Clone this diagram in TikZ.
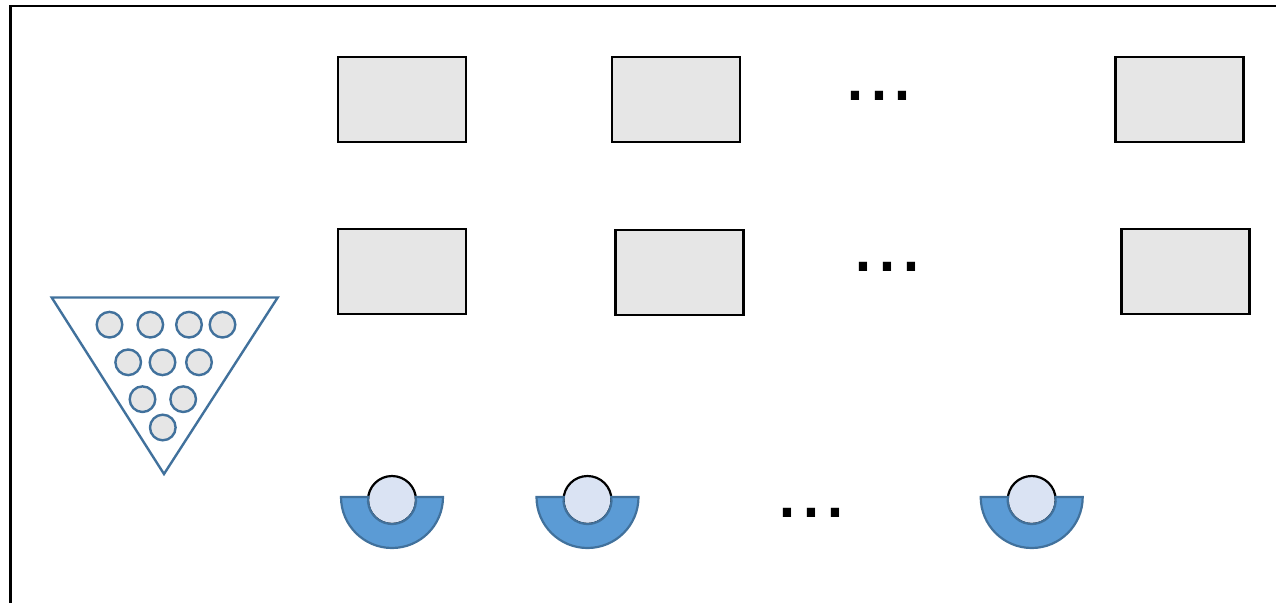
\documentclass[tikz,border=0pt]{standalone}
\usepackage{fontspec}
\usetikzlibrary{calc}
\newfontfamily\dotfont{Liberation Sans}
\definecolor{boxgray}{HTML}{E6E6E6}
\definecolor{edgeblue}{HTML}{41719C}
\definecolor{bowlblue}{HTML}{5B9BD5}
\definecolor{ballblue}{HTML}{DAE3F3}
\begin{document}
\begin{tikzpicture}[x=1pt,y=1pt,
  box/.style={draw=black,line width=2.4pt,fill=boxgray,minimum width=128pt,minimum height=85pt,inner sep=0pt,outer sep=0pt},
  ball/.style={draw=edgeblue,line width=2.4pt,fill=boxgray,circle,minimum size=25.6pt,inner sep=0pt},
  dotsnode/.style={font=\dotfont\fontsize{86pt}{90pt}\selectfont,inner sep=0pt,anchor=base},
  bowl/.style={draw=edgeblue,line width=2.2pt,fill=bowlblue},
  dome/.style={draw=black,line width=2.2pt,fill=ballblue}
]
\useasboundingbox (0,0) rectangle (1276,-602);
\begin{scope}
\clip (0,0) rectangle (1276,-602);
\draw[line width=2.2pt] (10.5,-6) rectangle (1320,-660);
\end{scope}

% boxes
\node[box] (b11) at (402,-99.5) {};
\node[box] (b12) at (676,-99.5) {};
\node[box] (b13) at (1179.5,-99.5) {};
\node[box] (b21) at (402,-271.5) {};
\node[box] (b22) at (679.5,-272.5) {};
\node[box] (b23) at (1185.5,-271.5) {};

% dots
\node[dotsnode] (d1) at (879,-100) {...};
\node[dotsnode] (d2) at (887.5,-271) {...};
\node[dotsnode] (d3) at (811.5,-517.5) {...};

% triangle with balls
\draw[draw=edgeblue,line width=2.4pt,line join=miter] (51.7,-297.5) -- (277.7,-297.5) -- (164,-474) -- cycle;
\node[ball] (c1) at (109.5,-324.7) {};
\node[ball] (c2) at (150.3,-324.7) {};
\node[ball] (c3) at (189,-324.7) {};
\node[ball] (c4) at (222.5,-324.7) {};
\node[ball] (c5) at (128.2,-362.3) {};
\node[ball] (c6) at (162.5,-362.3) {};
\node[ball] (c7) at (199,-362.3) {};
\node[ball] (c8) at (142.5,-399.2) {};
\node[ball] (c9) at (183.2,-399.2) {};
\node[ball] (c10) at (162.8,-427.5) {};

% bowls
\foreach \bx/\nm in {392/w1,587.5/w2,1031.7/w3}{
  \draw[dome] (\bx,-500) circle[radius=24];
  \draw[bowl] (\bx-51,-497) -- ($(\bx,-500)+(172.8:24)$) arc[start angle=172.8,end angle=367.2,radius=24]
     -- (\bx+51,-497) arc[start angle=0,end angle=-180,radius=51] -- cycle;
  \coordinate (\nm) at (\bx,-497);
}
\end{tikzpicture}
\end{document}
